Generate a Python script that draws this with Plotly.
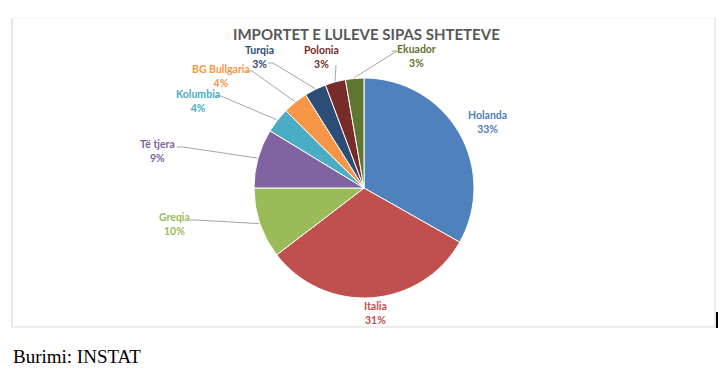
import math
import plotly.graph_objects as go

# ---- data ----
countries = ["Holanda", "Italia", "Greqia", "Të tjera", "Kolumbia",
             "BG Bullgaria", "Turqia", "Polonia", "Ekuador"]
shares = [33.2, 31.4, 10.4, 8.7, 3.7, 3.7, 3.2, 3.0, 2.7]
title_text = "IMPORTET E LULEVE SIPAS SHTETEVE"
source_text = "Burimi: INSTAT"

# ---- style ----
colors = ["#4F81BD", "#C0504D", "#9BBB59", "#8064A2", "#4BACC6",
          "#F79646", "#2C4D75", "#772C2A", "#5F7530"]
W, H = 724, 371
CX, CY, R = 364, 188, 110
# label centres (px) and leader-line label-side anchors
label_pos = {
    "Holanda": (487, 122), "Italia": (375, 313), "Greqia": (174, 224),
    "Të tjera": (157, 151), "Kolumbia": (198, 101), "BG Bullgaria": (221, 76),
    "Turqia": (259, 57), "Polonia": (321, 57), "Ekuador": (416, 56),
}
leader_start = {
    "Greqia": [(190, 220), (196, 220)],
    "Të tjera": [(177, 147), (183, 147)],
    "Kolumbia": [(215, 96), (221, 96)],
    "BG Bullgaria": [(246, 71), (252, 71)],
    "Turqia": [(268, 63), (273, 63)],
    "Polonia": [(336, 65)],
    "Ekuador": [(392, 51), (397, 51)],
}


def px(x, y):
    return x / W, 1 - y / H


fig = go.Figure()
x0, y1 = px(CX - R, CY - R)
x1, y0 = px(CX + R, CY + R)
fig.add_trace(go.Pie(
    labels=countries, values=shares, sort=False, direction="clockwise",
    rotation=0, marker=dict(colors=colors, line=dict(color="white", width=1)),
    textinfo="none", hoverinfo="label+percent", showlegend=False,
    domain=dict(x=[x0, x1], y=[y0, y1]),
))

annotations = []
shapes = []
total = sum(shares)
cum = 0.0
for name, v, c in zip(countries, shares, colors):
    mid = (cum + v / 2) / total * 2 * math.pi
    cum += v
    pct = round(v / total * 100)
    lx, ly = label_pos[name]
    ax, ay = px(lx, ly)
    annotations.append(dict(
        x=ax, y=ay, xref="paper", yref="paper", showarrow=False,
        xanchor="center", yanchor="middle", align="center",
        text=f"<b>{name}</b><br><b>{pct}%</b>",
        font=dict(family="Lato", size=10.5, color=c),
    ))
    if name in leader_start:
        ex = CX + (R + 1) * math.sin(mid)
        ey = CY - (R + 1) * math.cos(mid)
        pts = leader_start[name] + [(ex, ey)]
        path = "M " + " L ".join(f"{px(a, b)[0]},{px(a, b)[1]}" for a, b in pts)
        shapes.append(dict(type="path", xref="paper", yref="paper", path=path,
                           line=dict(color="#A6A6A6", width=1)))

# title
tx, ty = px(366, 34)
annotations.append(dict(x=tx, y=ty, xref="paper", yref="paper", showarrow=False,
                        xanchor="center", yanchor="middle",
                        text=f"<b>{title_text}</b>",
                        font=dict(family="Lato", size=15, color="#595959")))
# source
sx, sy = px(11, 356)
annotations.append(dict(x=sx, y=sy, xref="paper", yref="paper", showarrow=False,
                        xanchor="left", yanchor="middle", text=source_text,
                        font=dict(family="Liberation Serif", size=19, color="black")))

# chart border
bx0, by0 = px(12, 18)
bx1, by1 = px(715, 327)
shapes.append(dict(type="line", xref="paper", yref="paper", x0=bx0, x1=bx1, y0=by0, y1=by0,
                   line=dict(color="#F0F0F0", width=1)))
shapes.append(dict(type="line", xref="paper", yref="paper", x0=bx0, x1=bx0, y0=by0, y1=by1,
                   line=dict(color="#D0D0D0", width=1)))
shapes.append(dict(type="line", xref="paper", yref="paper", x0=bx1, x1=bx1, y0=by0, y1=by1,
                   line=dict(color="#D9D9D9", width=1)))
shapes.append(dict(type="line", xref="paper", yref="paper", x0=bx0, x1=bx1, y0=by1, y1=by1,
                   line=dict(color="#D9D9D9", width=1)))
# small cursor mark at right
cx0, cy0 = px(717, 312)
_, cy1 = px(717, 328)
shapes.append(dict(type="line", xref="paper", yref="paper", x0=cx0, x1=cx0, y0=cy0, y1=cy1,
                   line=dict(color="black", width=2)))

fig.update_layout(
    width=W, height=H, margin=dict(l=0, r=0, t=0, b=0),
    paper_bgcolor="white", plot_bgcolor="white",
    annotations=annotations, shapes=shapes,
)
fig.write_html(
    "out.html",
    config={"displayModeBar": False},
    post_script="document.body.style.margin='0';document.body.style.overflow='hidden';",
)
